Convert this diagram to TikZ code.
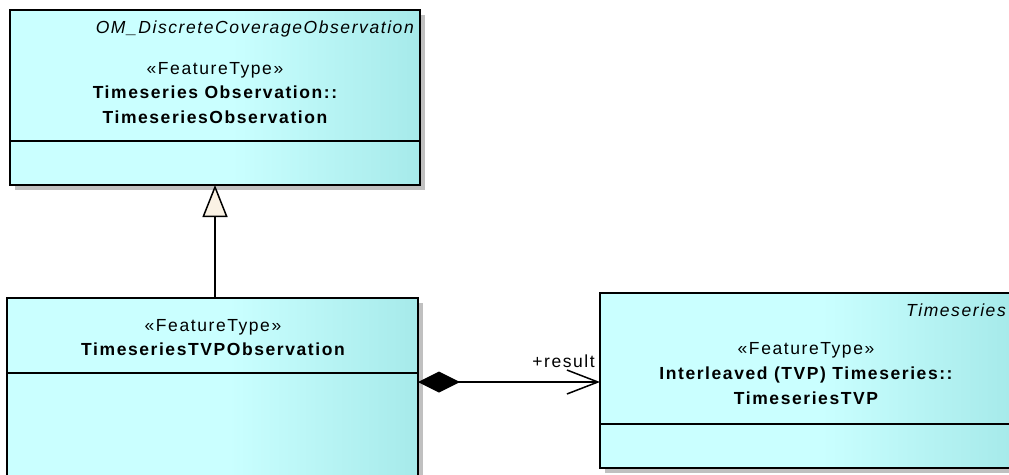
\documentclass[tikz,border=0pt]{standalone}
\usepackage{fontspec}
\setmainfont{Liberation Sans}[LetterSpace=9]
\usetikzlibrary{arrows.meta,shadows}
\definecolor{cL}{RGB}{202,255,255}
\definecolor{cR}{RGB}{166,234,234}
\definecolor{shadowgray}{RGB}{192,192,192}
\definecolor{genfill}{RGB}{250,242,228}
\pgfdeclarehorizontalshading{umlshade}{100bp}{color(0bp)=(cL); color(25bp)=(cL); color(52bp)=(cL); color(75bp)=(cR); color(100bp)=(cR)}
\begin{document}
\begin{tikzpicture}[x=1pt,y=-1pt,
  umlbox/.style={draw=black, line width=1.5pt, shading=umlshade, anchor=north west,
     inner sep=0pt, outer sep=0pt,
     drop shadow={shadow xshift=5pt, shadow yshift=-5pt, fill=shadowgray, opacity=1}},
  divider/.style={draw=black, line width=1.5pt},
  lbl/.style={font=\fontsize{17.5}{21}\selectfont, inner sep=0pt, anchor=base},
  blbl/.style={lbl, font=\fontsize{17.5}{21}\selectfont\bfseries},
  ilbl/.style={lbl, font=\fontsize{17.5}{21}\selectfont\itshape, anchor=base east},
  gen/.style={draw=black, line width=1.5pt, -{Triangle[length=32pt,width=25pt,fill=genfill]}},
  comp/.style={draw=black, line width=1.5pt, {Diamond[length=42pt,width=21pt,fill=black]}-{Straight Barb[length=31pt,width=24pt]}}
]
\useasboundingbox (0,0) rectangle (1009,474);
\clip (0,0) rectangle (1009,474);

% boxes
\node[umlbox, minimum width=410pt, minimum height=175pt] (obs) at (10,10) {};
\node[umlbox, minimum width=411pt, minimum height=200pt] (tvpobs) at (7,298) {};
\node[umlbox, minimum width=410pt, minimum height=175pt] (ts) at (600,293) {};

% dividers
\draw[divider] ([yshift=-131pt]obs.north west) -- ([yshift=-131pt]obs.north east);
\draw[divider] ([yshift=-75pt]tvpobs.north west) -- ([yshift=-75pt]tvpobs.north east);
\draw[divider] ([yshift=-131pt]ts.north west) -- ([yshift=-131pt]ts.north east);

% texts: top box
\node[ilbl] (obsparent) at (414,33) {OM\_DiscreteCoverageObservation};
\node[lbl] (obsst) at (215,74) {«FeatureType»};
\node[blbl] (obsn1) at (215,98.7) {Timeseries Observation::};
\node[blbl] (obsn2) at (215,123) {TimeseriesObservation};

% texts: bottom-left box
\node[lbl] (tvpst) at (213,331) {«FeatureType»};
\node[blbl] (tvpn) at (213,355) {TimeseriesTVPObservation};

% texts: right box
\node[ilbl] (tsparent) at (1006,316.7) {Timeseries};
\node[lbl] (tsst) at (806,354) {«FeatureType»};
\node[blbl] (tsn1) at (806,379.3) {Interleaved (TVP) Timeseries::};
\node[blbl] (tsn2) at (806,404) {TimeseriesTVP};

% connectors
\draw[gen] (tvpobs.north -| obs.south) -- (obs.south);
\coordinate (tsin) at ([yshift=-89pt]ts.north west);
\draw[comp] (tvpobs.east |- tsin) -- (tsin);
\node[lbl, anchor=base east] (res) at (595,367) {+result};
\end{tikzpicture}
\end{document}
